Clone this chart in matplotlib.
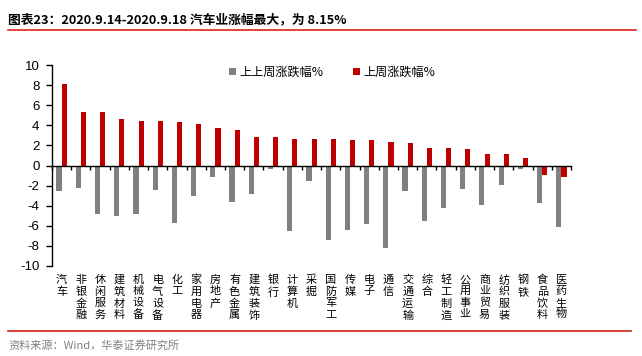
import matplotlib
matplotlib.use("Agg")
import matplotlib.pyplot as plt
from matplotlib.transforms import blended_transform_factory
import numpy as np

plt.rcParams['font.family'] = ['Noto Sans CJK SC', 'DejaVu Sans']

categories = ["汽车", "非银金融", "休闲服务", "建筑材料", "机械设备", "电气设备", "化工",
              "家用电器", "房地产", "有色金属", "建筑装饰", "银行", "计算机", "采掘",
              "国防军工", "传媒", "电子", "通信", "交通运输", "综合", "轻工制造",
              "公用事业", "商业贸易", "纺织服装", "钢铁", "食品饮料", "医药生物"]
prev2_week = [-2.52, -2.22, -4.80, -5.00, -4.80, -2.45, -5.76, -3.01, -1.19, -3.64, -2.88,
              -0.30, -6.52, -1.56, -7.38, -6.42, -5.86, -8.21, -2.55, -5.53, -4.24,
              -2.38, -3.91, -1.95, -0.30, -3.77, -6.16]
last_week = [8.15, 5.36, 5.30, 4.60, 4.44, 4.44, 4.37, 4.14, 3.71, 3.54, 2.85,
             2.81, 2.65, 2.65, 2.65, 2.55, 2.52, 2.35, 2.19, 1.75, 1.75,
             1.62, 1.16, 1.13, 0.76, -0.93, -1.19]
series_names = ["上上周涨跌幅%", "上周涨跌幅%"]
yticks = [-10, -8, -6, -4, -2, 0, 2, 4, 6, 8, 10]

W, H = 642, 356
fig = plt.figure(figsize=(W / 100, H / 100), dpi=100)
ax = fig.add_axes([52 / W, 1 - 266 / H, (571 - 52) / W, (266 - 65) / H])

x = np.arange(len(categories))
bw = 0.27
ax.bar(x - bw / 2, prev2_week, width=bw, color='#808080', label=series_names[0], zorder=2)
ax.bar(x + bw / 2, last_week, width=bw, color='#C00000', label=series_names[1], zorder=2)

ax.set_xlim(-0.5, len(categories) - 0.5)
ax.set_ylim(-10, 10)
ax.set_yticks(yticks)
ax.set_yticklabels([str(v) for v in yticks], family=['Liberation Sans'], fontsize=9.5)
ax.tick_params(axis='y', direction='out', length=4, width=1, pad=5, colors='black')

for s in ['top', 'right']:
    ax.spines[s].set_visible(False)
ax.spines['bottom'].set_position(('data', 0))
ax.spines['left'].set_linewidth(1)
ax.spines['bottom'].set_linewidth(1)
ax.spines['bottom'].set_zorder(3)

ax.set_xticks(np.arange(-0.5, len(categories), 1.0))
ax.set_xticklabels([])
ax.tick_params(axis='x', direction='out', length=3, width=1)

trans = blended_transform_factory(ax.transData, ax.transAxes)
for i, c in enumerate(categories):
    ax.text(i, -0.043, "\n".join(c), transform=trans, ha='center', va='top',
            fontsize=8, linespacing=1.2)

leg = ax.legend(loc='upper center', bbox_to_anchor=(0.54, 1.05), ncol=2, frameon=False,
                fontsize=8.7, handlelength=0.6, handleheight=0.6, handletextpad=0.3,
                columnspacing=2.4)

fig.text(8 / W, 1 - 20 / H, "图表23：2020.9.14-2020.9.18 汽车业涨幅最大，为 8.15%",
         fontsize=9.2, fontweight='bold', va='center', ha='left')
fig.add_artist(plt.Line2D([8 / W, 636 / W], [1 - 30 / H, 1 - 30 / H], color='#E0201A', lw=1.2))
fig.add_artist(plt.Line2D([8 / W, 631 / W], [1 - 331 / H, 1 - 331 / H], color='#D0201A', lw=1.2))
fig.text(8 / W, 1 - 345 / H, "资料来源：Wind，华泰证券研究所", fontsize=8, color='#808080',
         va='center', ha='left')

fig.savefig("out.png", dpi=100)
